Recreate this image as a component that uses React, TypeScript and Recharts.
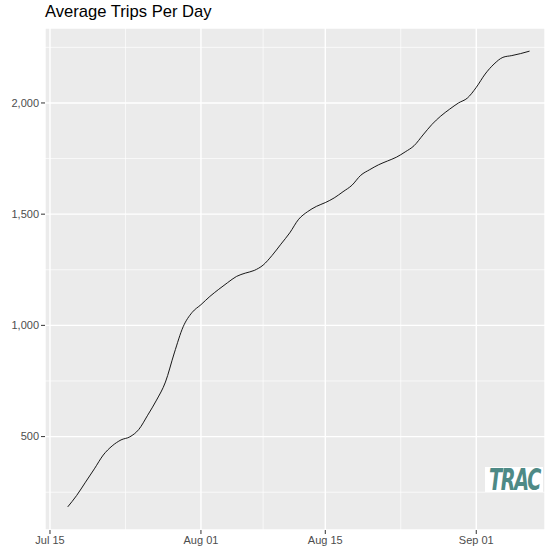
import React from "react";
import {
  LineChart,
  Line,
  XAxis,
  YAxis,
  CartesianGrid,
  ReferenceLine,
} from "recharts";

// days counted from Jul 15; data runs Jul 17 .. Sep 07
const days = [
  2, 3, 4, 5, 6, 7, 8, 9, 10, 11, 12, 13, 14, 15, 16, 17, 18, 19, 20, 21, 22,
  23, 24, 25, 26, 27, 28, 29, 30, 31, 32, 33, 34, 35, 36, 37, 38, 39, 40, 41,
  42, 43, 44, 45, 46, 47, 48, 49, 50, 51, 52, 53, 54,
];
const avgTrips = [
  184, 235, 295, 355, 417, 458, 485, 499, 532, 596, 664, 745, 876, 994, 1058,
  1093, 1130, 1162, 1192, 1220, 1235, 1247, 1271, 1314, 1365, 1416, 1477, 1511,
  1535, 1552, 1573, 1601, 1630, 1675, 1700, 1722, 1739, 1756, 1780, 1808, 1856,
  1903, 1941, 1972, 2000, 2022, 2070, 2130, 2175, 2205, 2213, 2222, 2233,
];

const xTicks = [0, 17, 31, 48];
const xTickLabels = ["Jul 15", "Aug 01", "Aug 15", "Sep 01"];
const xMinor = [8.5, 24, 39.5];
const yTicks = [500, 1000, 1500, 2000];
const yMinor = [250, 750, 1250, 1750, 2250];

const data = days.map((d, i) => ({ day: d, trips: avgTrips[i] }));

const font = "'Liberation Sans', Arial, sans-serif";
const tickStyle = { fill: "#4D4D4D", fontSize: 11, fontFamily: font };

export default function App() {
  return (
    <div style={{ position: "absolute", left: 0, top: 0, width: 545, height: 552, background: "#fff" }}>
      <div
        style={{
          position: "absolute",
          left: 45,
          top: 2,
          fontFamily: font,
          fontSize: 16.6,
          color: "#000",
        }}
      >
        Average Trips Per Day
      </div>
      <LineChart
        width={545}
        height={552}
        data={data}
        margin={{ top: 28, right: 0, bottom: 0, left: 0 }}
      >
        <CartesianGrid fill="#EBEBEB" stroke="#FFFFFF" strokeWidth={1.4} />
        {xMinor.map((v) => (
          <ReferenceLine key={"x" + v} x={v} stroke="#FFFFFF" strokeWidth={0.7} />
        ))}
        {yMinor.map((v) => (
          <ReferenceLine key={"y" + v} y={v} stroke="#FFFFFF" strokeWidth={0.7} />
        ))}
        <XAxis
          dataKey="day"
          type="number"
          domain={[-0.56, 55.74]}
          ticks={xTicks}
          tickFormatter={(v) => xTickLabels[xTicks.indexOf(v)]}
          axisLine={false}
          tickLine={{ stroke: "#333333" }}
          tickSize={4}
          tick={tickStyle}
          height={22}
          allowDataOverflow
        />
        <YAxis
          type="number"
          domain={[80, 2337]}
          ticks={yTicks}
          tickFormatter={(v) => v.toLocaleString("en-US")}
          axisLine={false}
          tickLine={{ stroke: "#333333" }}
          tickSize={4}
          tick={tickStyle}
          width={45}
          allowDataOverflow
        />
        <Line
          dataKey="trips"
          type="monotone"
          stroke="#000000"
          strokeWidth={0.9}
          dot={false}
          isAnimationActive={false}
        />
      </LineChart>
      <div
        style={{
          position: "absolute",
          left: 485,
          top: 467,
          width: 58,
          height: 25,
          background: "#fff",
        }}
      >
        <div
          style={{
            position: "absolute",
            left: 4,
            top: -5,
            fontFamily: "'DejaVu Sans', sans-serif",
            fontStyle: "italic",
            fontWeight: 900,
            fontSize: 30,
            letterSpacing: -2,
            color: "#4E8A86",
            whiteSpace: "nowrap",
            transform: "scaleX(0.64)",
            transformOrigin: "left top",
          }}
        >
          TRAC
        </div>
      </div>
    </div>
  );
}
